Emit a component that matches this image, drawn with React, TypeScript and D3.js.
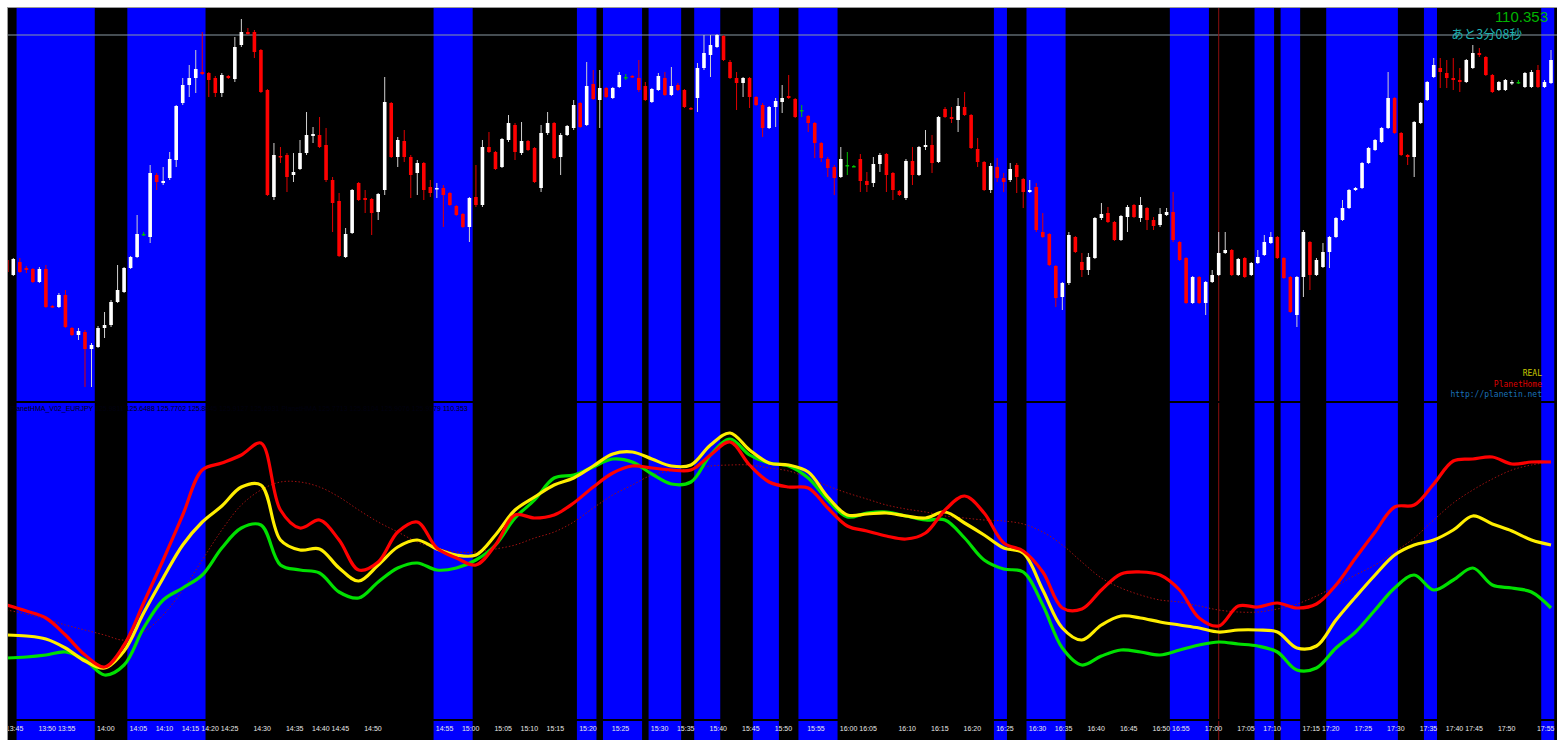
import React from "react";
import * as d3 from "d3";

const W = 1557;
const H = 740;

// 1-minute candles, values in points: price = 110 + pts / 1000
const openPts = [
  128, 113, 126, 120, 119, 106, 119, 82, 81, 93,
  60, 53, 56, 39, 41, 60, 63, 86, 96, 120,
  131, 154, 151, 213, 205, 210, 228, 285, 303, 310,
  316, 315, 310, 295, 312, 309, 343, 356, 356, 338,
  298, 191, 232, 233, 213, 219, 235, 252, 253, 243,
  208, 187, 131, 155, 205, 190, 189, 176, 198, 285,
  231, 247, 231, 215, 225, 201, 199, 200, 195, 182,
  174, 161, 191, 183, 241, 236, 221, 248, 263, 235,
  247, 240, 200, 255, 265, 231, 253, 260, 285, 263,
  304, 288, 300, 290, 301, 311, 312, 310, 302, 286,
  298, 310, 293, 303, 298, 280, 290, 320, 333, 341,
  352, 326, 310, 305, 310, 291, 283, 260, 281, 286,
  292, 289, 278, 272, 265, 245, 229, 221, 211, 223,
  222, 229, 207, 205, 224, 234, 215, 197, 190, 227,
  213, 241, 243, 226, 279, 271, 268, 281, 273, 239,
  226, 198, 221, 210, 208, 223, 209, 196, 201, 156,
  154, 122, 91, 105, 151, 126, 118, 130, 170, 175,
  166, 148, 171, 183, 170, 180, 168, 163, 173, 176,
  146, 130, 85, 111, 85, 106, 113, 135, 138, 113,
  130, 113, 125, 133, 145, 151, 130, 111, 73, 111,
  146, 113, 121, 136, 151, 168, 180, 198, 200, 225,
  238, 246, 260, 290, 255, 233, 231, 265, 288, 311,
  320, 315, 310, 308, 306, 320, 335, 331, 313, 298,
  298, 305, 306, 301, 301, 318, 301, 305,
];
const highPts = [
  133, 130, 130, 122, 120, 121, 123, 83, 95, 98,
  61, 60, 58, 45, 62, 76, 88, 123, 121, 132,
  173, 156, 223, 215, 221, 236, 283, 310, 323, 338,
  356, 316, 312, 315, 313, 351, 369, 360, 358, 339,
  299, 245, 241, 235, 235, 248, 276, 261, 271, 260,
  211, 195, 160, 199, 206, 198, 190, 195, 311, 286,
  251, 258, 233, 228, 226, 208, 205, 203, 196, 183,
  175, 191, 223, 248, 256, 237, 250, 273, 265, 266,
  248, 241, 263, 276, 266, 255, 263, 288, 286, 326,
  318, 318, 301, 301, 316, 314, 313, 328, 306, 300,
  315, 316, 321, 305, 299, 281, 325, 353, 353, 354,
  353, 328, 316, 311, 311, 292, 285, 282, 290, 303,
  313, 290, 283, 273, 266, 246, 231, 223, 241, 236,
  223, 234, 216, 231, 235, 235, 216, 198, 229, 241,
  242, 258, 253, 272, 281, 281, 290, 296, 274, 250,
  227, 225, 230, 215, 225, 225, 210, 208, 205, 175,
  155, 123, 106, 156, 152, 135, 135, 171, 185, 181,
  167, 173, 183, 184, 191, 181, 171, 180, 180, 196,
  147, 131, 112, 112, 107, 118, 156, 156, 139, 130,
  131, 126, 138, 153, 156, 152, 131, 112, 112, 158,
  147, 130, 145, 152, 171, 188, 199, 201, 226, 241,
  249, 261, 316, 291, 256, 234, 267, 286, 307, 330,
  330, 328, 330, 320, 329, 343, 340, 332, 314, 307,
  309, 308, 308, 316, 318, 323, 308, 338,
];
const lowPts = [
  86, 112, 115, 115, 105, 105, 80, 80, 80, 60,
  52, 48, 1, 1, 40, 50, 61, 85, 95, 119,
  130, 152, 145, 198, 203, 208, 221, 283, 291, 295,
  313, 291, 291, 291, 309, 306, 341, 353, 330, 295,
  192, 188, 225, 196, 206, 218, 233, 245, 240, 206,
  156, 131, 130, 154, 187, 175, 153, 168, 193, 230,
  221, 226, 190, 193, 188, 191, 190, 161, 182, 172,
  160, 146, 181, 181, 235, 218, 220, 246, 228, 233,
  237, 205, 196, 253, 229, 213, 252, 258, 260, 262,
  288, 260, 290, 289, 300, 308, 310, 296, 287, 285,
  297, 292, 292, 297, 280, 278, 276, 318, 311, 340,
  327, 309, 278, 291, 280, 282, 251, 259, 261, 275,
  289, 270, 271, 256, 230, 226, 211, 193, 210, 213,
  221, 196, 196, 201, 216, 196, 188, 192, 188, 203,
  212, 238, 215, 225, 270, 265, 256, 272, 239, 221,
  197, 195, 206, 196, 206, 195, 180, 195, 156, 150,
  122, 81, 78, 103, 135, 111, 113, 129, 168, 165,
  147, 147, 156, 170, 166, 158, 158, 161, 172, 146,
  127, 84, 84, 84, 73, 105, 112, 134, 112, 112,
  110, 112, 124, 132, 144, 129, 109, 75, 61, 91,
  98, 112, 120, 120, 150, 167, 179, 197, 199, 224,
  237, 245, 259, 254, 232, 223, 211, 264, 287, 310,
  300, 300, 298, 296, 305, 319, 331, 312, 295, 297,
  297, 303, 304, 300, 300, 300, 300, 304,
];
const closePts = [
  116, 129, 116, 118, 106, 119, 81, 81, 93, 61,
  53, 57, 39, 43, 60, 63, 86, 98, 120, 131,
  154, 154, 215, 206, 207, 229, 282, 303, 310, 319,
  314, 308, 295, 313, 310, 341, 356, 354, 336, 296,
  193, 233, 231, 211, 216, 235, 253, 254, 241, 208,
  185, 132, 154, 198, 188, 188, 175, 194, 286, 231,
  248, 231, 213, 225, 198, 195, 200, 193, 183, 173,
  161, 190, 183, 241, 236, 219, 249, 265, 236, 247,
  238, 206, 255, 265, 230, 253, 262, 283, 261, 302,
  289, 300, 291, 300, 313, 311, 311, 298, 288, 299,
  312, 293, 302, 298, 281, 279, 320, 335, 343, 353,
  328, 310, 305, 310, 291, 283, 260, 281, 287, 290,
  290, 271, 278, 265, 245, 230, 220, 210, 229, 223,
  222, 207, 203, 224, 233, 213, 198, 193, 227, 213,
  241, 243, 225, 271, 271, 269, 282, 273, 240, 226,
  198, 222, 210, 206, 219, 211, 196, 198, 158, 151,
  123, 90, 105, 153, 136, 118, 131, 170, 174, 166,
  148, 172, 181, 171, 183, 168, 162, 174, 176, 148,
  128, 85, 111, 85, 106, 113, 135, 138, 113, 129,
  111, 125, 131, 146, 151, 130, 110, 76, 111, 156,
  113, 128, 136, 151, 170, 180, 198, 200, 225, 240,
  248, 260, 290, 255, 233, 231, 266, 285, 306, 323,
  316, 310, 308, 306, 328, 335, 333, 313, 296, 306,
  308, 306, 306, 315, 316, 301, 306, 328,
];

const currentPrice = 110.353;
const countdownText = "あと3分08秒";

// blue zones (bar index ranges, inclusive)
const zoneFrom = [2, 19, 66, 88, 92, 99, 106, 115, 122, 152, 157, 179, 192, 196, 203, 218, 236];
const zoneTo = [13, 30, 71, 90, 97, 103, 109, 118, 127, 153, 162, 184, 194, 198, 213, 219, 237];

const markerBar = 186;

const tickLabels = [
  "13:45", "13:50", "13:55", "14:00", "14:05", "14:10", "14:15", "14:20", "14:25", "14:30",
  "14:35", "14:40", "14:45", "14:50", "14:55", "15:00", "15:05", "15:10", "15:15", "15:20",
  "15:25", "15:30", "15:35", "15:40", "15:45", "15:50", "15:55", "16:00", "16:05", "16:10",
  "16:15", "16:20", "16:25", "16:30", "16:35", "16:40", "16:45", "16:50", "16:55", "17:00",
  "17:05", "17:10", "17:15", "17:20", "17:25", "17:30", "17:35", "17:40", "17:45", "17:50",
  "17:55",
];
const tickBars = [
  0, 5, 8, 14, 19, 23, 27, 30, 33, 38,
  43, 47, 50, 55, 66, 70, 75, 79, 83, 88,
  93, 99, 103, 108, 113, 118, 123, 128, 131, 137,
  142, 147, 152, 157, 161, 166, 171, 176, 179, 184,
  189, 193, 199, 202, 207, 212, 217, 221, 224, 229,
  235,
];

// oscillator values, one sample every 3rd bar
const sampleStep = 3;
const planetLine = [
  115, 109, 102, 85, 65, 53, 75, 117, 160, 205,
  250, 257, 265, 277, 210, 192, 200, 180, 150, 158,
  188, 198, 172, 162, 155, 175, 205, 202, 205, 217,
  233, 247, 254, 252, 250, 250, 265, 278, 255, 238,
  233, 232, 212, 194, 189, 184, 181, 187, 210, 224,
  207, 177, 169, 148, 112, 111, 130, 146, 148, 145,
  130, 102, 94, 114, 113, 117, 112, 116, 135, 162,
  188, 213, 215, 236, 259, 261, 263, 256, 258, 258,
];
const realLine = [
  85, 84, 81, 72, 59, 52, 69, 107, 142, 175,
  198, 214, 233, 235, 180, 170, 171, 152, 139, 155,
  173, 180, 171, 165, 165, 185, 210, 223, 235, 242,
  254, 266, 268, 261, 254, 255, 275, 287, 270, 257,
  255, 248, 223, 205, 206, 207, 204, 202, 208, 197,
  185, 172, 167, 130, 92, 80, 95, 104, 102, 98,
  95, 92, 88, 90, 90, 88, 72, 74, 100, 123,
  145, 165, 175, 180, 190, 204, 196, 189, 180, 175,
];
const greenLine = [
  62, 63, 65, 68, 60, 45, 55, 92, 120, 132,
  145, 172, 192, 195, 155, 150, 147, 128, 122, 138,
  152, 157, 150, 152, 160, 175, 202, 220, 242, 245,
  253, 261, 258, 246, 236, 238, 265, 281, 265, 257,
  254, 242, 220, 203, 207, 208, 204, 200, 200, 182,
  160, 151, 148, 115, 72, 55, 64, 70, 68, 65,
  70, 75, 78, 76, 74, 68, 50, 52, 72, 88,
  110, 132, 145, 130, 140, 152, 135, 132, 128, 112,
];
const slowLine = [
  110, 106, 101, 95, 90, 85, 80, 88, 105, 130,
  160, 190, 215, 230, 238, 238, 233, 223, 210, 198,
  188, 178, 172, 168, 168, 171, 175, 182, 188, 198,
  212, 225, 235, 245, 249, 251, 254, 255, 255, 252,
  249, 242, 234, 227, 221, 215, 211, 208, 204, 202,
  200, 199, 196, 188, 175, 158, 142, 132, 125, 120,
  118, 114, 110, 108, 108, 111, 116, 124, 134, 145,
  155, 168, 182, 200, 217, 230, 241, 250, 255, 258,
];

const indicatorCaption =
  "PlanetHMA_V02_EURJPY      125.9811 125.6488 125.7702 125.8845 125.9127 125.6931 PlanetHMA 125.7713 125.8104 125.9076 125.9379 110.353";

const LEFT = 7;
const TOP = 7;
const SEP1 = 401;
const SEP2 = 719;

export default function App() {
  const n = openPts.length;
  const x = d3.scaleLinear().domain([0, n - 1]).range([6.8, 1551]);
  const y = d3.scaleLinear().domain([110, 110.388]).range([388, 0]);
  const yi = d3.scaleLinear().domain([0, 320]).range([720, 400]);
  const step = x(1) - x(0);
  const toPrice = (p: number) => 110 + p / 1000;

  const lineGen = d3
    .line<number>()
    .x((_, i) => x(i * sampleStep))
    .y((d) => yi(d))
    .curve(d3.curveCatmullRom);

  const candles = d3.range(n).map((i) => {
    const o = toPrice(openPts[i]);
    const c = toPrice(closePts[i]);
    const up = c > o;
    const flat = c === o;
    const col = flat ? "#00c000" : up ? "#ffffff" : "#ff0000";
    const wick = flat ? "#00c000" : up ? "#d0d0d0" : "#e00000";
    const top = y(Math.max(o, c));
    const bot = y(Math.min(o, c));
    return (
      <g key={i}>
        <line
          x1={x(i)}
          x2={x(i)}
          y1={y(toPrice(highPts[i]))}
          y2={y(toPrice(lowPts[i]))}
          stroke={wick}
          strokeWidth={1}
        />
        <rect x={x(i) - 1.8} y={top} width={3.6} height={Math.max(1.5, bot - top)} fill={col} />
      </g>
    );
  });

  const labelFont = "'Liberation Sans', Arial, sans-serif";

  return (
    <svg
      width={W}
      height={H}
      style={{ position: "absolute", left: 0, top: 0, display: "block", background: "#fff" }}
    >
      <defs>
        <clipPath id="chartArea">
          <rect x={LEFT} y={TOP} width={W - LEFT} height={H - TOP} />
        </clipPath>
        <clipPath id="pricePane">
          <rect x={LEFT} y={TOP} width={W - LEFT} height={SEP1 - TOP} />
        </clipPath>
        <clipPath id="oscPane">
          <rect x={LEFT} y={SEP1 + 2} width={W - LEFT} height={SEP2 - SEP1 - 2} />
        </clipPath>
      </defs>

      <rect x={0} y={0} width={W} height={H} fill="#ffffff" />
      <rect x={LEFT} y={TOP} width={W - LEFT} height={H - TOP} fill="#000000" />

      <g clipPath="url(#chartArea)">
        {zoneFrom.map((f, k) => (
          <rect
            key={k}
            x={x(f) - step / 2}
            y={TOP}
            width={x(zoneTo[k]) - x(f) + step}
            height={H - TOP}
            fill="#0000ff"
          />
        ))}
        <line
          x1={LEFT}
          x2={W}
          y1={y(currentPrice)}
          y2={y(currentPrice)}
          stroke="#8a9aa4"
          strokeWidth={1}
        />
        <line
          x1={x(markerBar)}
          x2={x(markerBar)}
          y1={TOP}
          y2={H}
          stroke="#8b1010"
          strokeWidth={1}
        />
      </g>

      <g clipPath="url(#pricePane)">{candles}</g>

      <rect x={LEFT} y={SEP1} width={W - LEFT} height={2} fill="#000" />
      <rect x={LEFT} y={SEP2} width={W - LEFT} height={2} fill="#000" />

      <text x={10} y={411} fontFamily={labelFont} fontSize={7} fill="#000010">
        {indicatorCaption}
      </text>

      <g clipPath="url(#oscPane)" fill="none">
        <path
          d={lineGen(slowLine) || ""}
          stroke="#a01010"
          strokeWidth={1}
          strokeDasharray="1.5,2"
        />
        <path d={lineGen(greenLine) || ""} stroke="#00e000" strokeWidth={3.2} />
        <path d={lineGen(realLine) || ""} stroke="#ffee00" strokeWidth={3.2} />
        <path d={lineGen(planetLine) || ""} stroke="#ff0000" strokeWidth={3.2} />
      </g>

      <g clipPath="url(#chartArea)" fontFamily={labelFont} fontSize={7} fill="#e8e8e8">
        {tickLabels.map((t, k) => (
          <text key={t} x={x(tickBars[k]) - 1} y={731}>
            {t}
          </text>
        ))}
      </g>

      <text
        x={1548}
        y={22}
        textAnchor="end"
        fontFamily={labelFont}
        fontSize={15}
        fill="#00b400"
      >
        {currentPrice.toFixed(3)}
      </text>
      <text
        x={1522}
        y={39}
        textAnchor="end"
        fontFamily="'Noto Sans CJK JP', sans-serif"
        fontSize={12.5}
        fill="#1fb0b0"
      >
        {countdownText}
      </text>

      <g fontFamily="'DejaVu Sans Mono', monospace" fontSize={8} textAnchor="end">
        <text x={1542} y={376} fill="#c8c800">
          REAL
        </text>
        <text x={1542} y={387} fill="#dd0000">
          PlanetHome
        </text>
        <text x={1542} y={397} fill="#1a70b8">
          http://planetin.net
        </text>
      </g>

      <line x1={LEFT + 0.5} x2={LEFT + 0.5} y1={TOP} y2={H} stroke="#9a9a9a" strokeWidth={1} />
      <line x1={LEFT} x2={W} y1={TOP + 0.5} y2={TOP + 0.5} stroke="#9a9a9a" strokeWidth={1} />
    </svg>
  );
}
